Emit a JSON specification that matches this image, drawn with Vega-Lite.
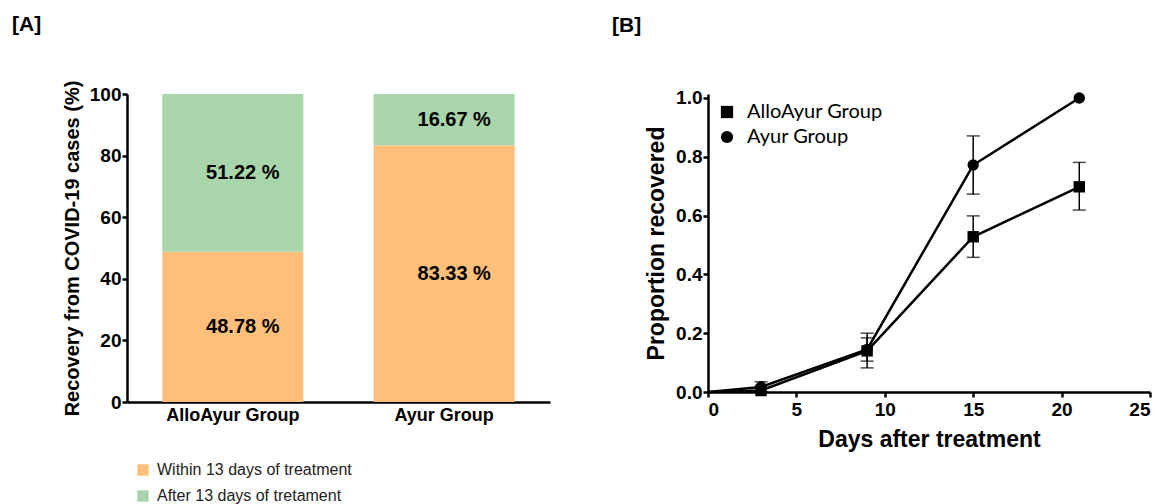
{
  "$schema": "https://vega.github.io/schema/vega-lite/v6.json",
  "background": "white",
  "padding": {"left": 12, "top": 14, "right": 0, "bottom": 0},
  "spacing": 62,
  "resolve": {"scale": {"color": "independent", "shape": "independent"}},
  "config": {
    "view": {"stroke": null},
    "font": "Liberation Sans",
    "axis": {
      "domainColor": "black", "domainWidth": 2.5, "tickColor": "black", "tickWidth": 2.5, "tickSize": 5,
      "labelColor": "black", "labelFont": "Liberation Sans", "labelFontWeight": "bold",
      "titleColor": "black", "titleFont": "Liberation Sans", "titleFontWeight": "bold", "grid": false
    },
    "title": {"font": "Liberation Sans", "fontWeight": "bold", "color": "black"}
  },
  "hconcat": [
    {
      "width": 423,
      "height": 308,
      "title": {"text": "[A]", "anchor": "start", "frame": "group", "dx": -115, "fontSize": 21, "offset": 45},
      "data": {"values": [
        {"group": "AlloAyur Group", "cat": "Within 13 days of treatment", "pct": 48.78, "label": "48.78 %"},
        {"group": "AlloAyur Group", "cat": "After 13 days of tretament", "pct": 51.22, "label": "51.22 %"},
        {"group": "Ayur Group", "cat": "Within 13 days of treatment", "pct": 83.33, "label": "83.33 %"},
        {"group": "Ayur Group", "cat": "After 13 days of tretament", "pct": 16.67, "label": "16.67 %"}
      ]},
      "encoding": {
        "x": {"field": "group", "type": "nominal", "sort": null,
          "scale": {"paddingInner": 0.333, "paddingOuter": 0.167},
          "axis": {"title": null, "labelAngle": 0, "ticks": false, "labelFontSize": 18, "labelPadding": 4}},
        "y": {"field": "pct", "type": "quantitative", "stack": "zero",
          "scale": {"domain": [0, 100], "nice": false},
          "axis": {"title": "Recovery from COVID-19 cases (%)", "values": [0, 20, 40, 60, 80, 100],
            "labelFontSize": 19, "titleFontSize": 20, "labelPadding": 1, "titlePadding": 7}}
      },
      "layer": [
        {
          "mark": {"type": "bar"},
          "encoding": {
            "color": {"field": "cat", "type": "nominal",
              "sort": ["Within 13 days of treatment", "After 13 days of tretament"],
              "scale": {"domain": ["Within 13 days of treatment", "After 13 days of tretament"], "range": ["#FFBF7A", "#A8D5A9"]},
              "legend": {"title": null, "orient": "none", "legendX": 8, "legendY": 368, "direction": "vertical",
                "symbolType": "square", "symbolSize": 130, "rowPadding": 10, "labelFontSize": 16, "labelLimit": 400,
                "labelColor": "#222", "labelFont": "Liberation Sans", "labelOffset": 6, "padding": 0}},
            "order": {"field": "cat", "sort": "descending"}
          }
        },
        {
          "mark": {"type": "text", "fontSize": 20, "fontWeight": "bold", "color": "black", "dx": 10, "baseline": "middle"},
          "encoding": {
            "y": {"field": "pct", "type": "quantitative", "stack": "zero", "bandPosition": 0.5},
            "text": {"field": "label"},
            "order": {"field": "cat", "sort": "descending"}
          }
        }
      ]
    },
    {
      "width": 442,
      "height": 298,
      "title": {"text": "[B]", "anchor": "start", "frame": "group", "dx": -96, "fontSize": 21, "offset": 53},
      "data": {"values": [
        {"group": "AlloAyur Group", "day": 0, "p": 0, "lo": null, "hi": null},
        {"group": "AlloAyur Group", "day": 3, "p": 0.005, "lo": 0.0, "hi": 0.015},
        {"group": "AlloAyur Group", "day": 9, "p": 0.14, "lo": 0.082, "hi": 0.2},
        {"group": "AlloAyur Group", "day": 15, "p": 0.528, "lo": 0.458, "hi": 0.599},
        {"group": "AlloAyur Group", "day": 21, "p": 0.698, "lo": 0.619, "hi": 0.781},
        {"group": "Ayur Group", "day": 0, "p": 0, "lo": null, "hi": null},
        {"group": "Ayur Group", "day": 3, "p": 0.017, "lo": 0.0, "hi": 0.035},
        {"group": "Ayur Group", "day": 9, "p": 0.145, "lo": 0.105, "hi": 0.184},
        {"group": "Ayur Group", "day": 15, "p": 0.772, "lo": 0.673, "hi": 0.871},
        {"group": "Ayur Group", "day": 21, "p": 1.0, "lo": null, "hi": null}
      ]},
      "encoding": {
        "x": {"field": "day", "type": "quantitative",
          "scale": {"domain": [0, 25], "nice": false},
          "axis": {"title": "Days after treatment", "values": [0, 5, 10, 15, 20, 25],
            "labelFontSize": 19, "titleFontSize": 23, "labelPadding": 3, "titlePadding": 9}}
      },
      "layer": [
        {
          "transform": [{"filter": "datum.lo != null"}],
          "mark": {"type": "errorbar", "ticks": {"size": 13, "color": "black"}, "rule": {"color": "black"}, "color": "black", "thickness": 1.5},
          "encoding": {
            "y": {"field": "lo", "type": "quantitative",
              "scale": {"domain": [0, 1.0136], "nice": false},
              "axis": {"title": "Proportion recovered", "values": [0, 0.2, 0.4, 0.6, 0.8, 1.0], "format": ".1f",
                "labelFontSize": 19, "titleFontSize": 23, "labelPadding": 1, "titlePadding": 7}},
            "y2": {"field": "hi"},
            "detail": {"field": "group"}
          }
        },
        {
          "mark": {"type": "line", "color": "black", "strokeWidth": 2.5},
          "encoding": {
            "y": {"field": "p", "type": "quantitative",
              "scale": {"domain": [0, 1.0136], "nice": false},
              "axis": {"title": "Proportion recovered", "values": [0, 0.2, 0.4, 0.6, 0.8, 1.0], "format": ".1f",
                "labelFontSize": 19, "titleFontSize": 23, "labelPadding": 1, "titlePadding": 7}},
            "detail": {"field": "group"}
          }
        },
        {
          "transform": [{"filter": "datum.day > 0"}],
          "mark": {"type": "point", "filled": true, "color": "black", "opacity": 1, "size": 130},
          "encoding": {
            "y": {"field": "p", "type": "quantitative"},
            "shape": {"field": "group", "type": "nominal",
              "scale": {"domain": ["AlloAyur Group", "Ayur Group"], "range": ["square", "circle"]},
              "legend": {"title": null, "orient": "none", "legendX": 9, "legendY": 8, "padding": 0,
                "labelFont": "Lato", "labelFontSize": 20, "labelColor": "black", "labelFontWeight": "normal", "labelLimit": 300,
                "symbolFillColor": "black", "symbolStrokeColor": "black", "symbolSize": 150, "rowPadding": 5, "labelOffset": 10}}
          }
        }
      ]
    }
  ]
}
